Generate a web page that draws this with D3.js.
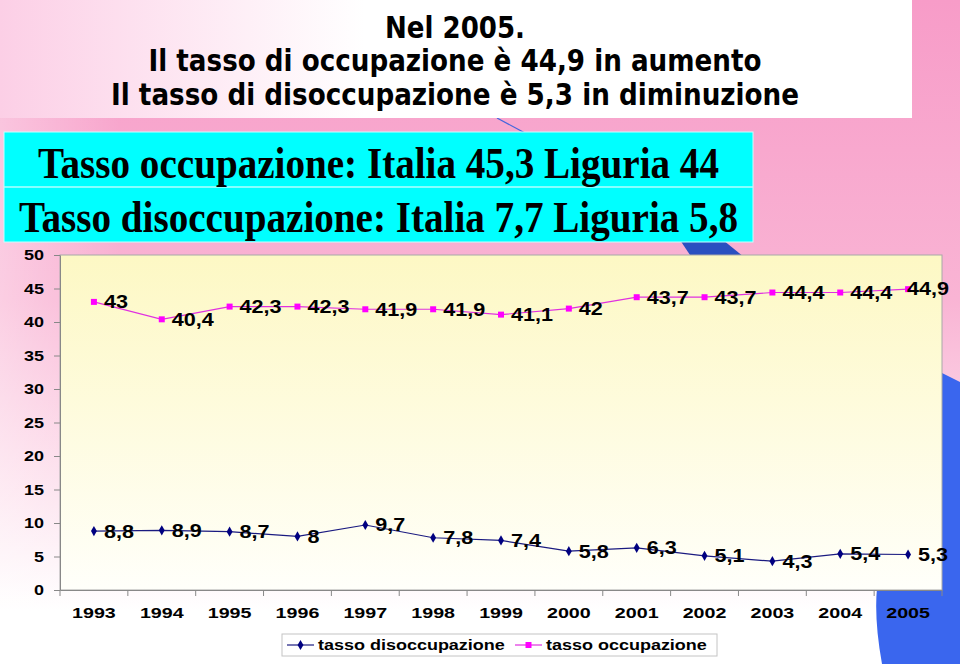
<!DOCTYPE html>
<html><head><meta charset="utf-8">
<script src="https://cdn.jsdelivr.net/npm/d3@7"></script>
<style>html,body{margin:0;padding:0;background:#fff;}svg{display:block;}</style>
</head><body>
<svg id="c" width="960" height="664"></svg>
<script>
const years = ["1993","1994","1995","1996","1997","1998","1999","2000","2001","2002","2003","2004","2005"];
const disoccupazione = [8.8, 8.9, 8.7, 8, 9.7, 7.8, 7.4, 5.8, 6.3, 5.1, 4.3, 5.4, 5.3];
const occupazione = [43, 40.4, 42.3, 42.3, 41.9, 41.9, 41.1, 42, 43.7, 43.7, 44.4, 44.4, 44.9];
const yTicks = [0, 5, 10, 15, 20, 25, 30, 35, 40, 45, 50];
const seriesNames = ["tasso disoccupazione", "tasso occupazione"];
const titleLines = ["Nel 2005.", "Il tasso di occupazione è 44,9 in aumento", "Il tasso di disoccupazione è 5,3 in diminuzione"];
const boxLines = ["Tasso occupazione: Italia 45,3 Liguria 44", "Tasso disoccupazione: Italia 7,7 Liguria 5,8"];

const svg = d3.select("#c");
const defs = svg.append("defs");

const bg = defs.append("linearGradient").attr("id","bg").attr("x1",0).attr("y1",0).attr("x2",0).attr("y2",1);
bg.append("stop").attr("offset","0%").attr("stop-color","#f79cc8");
bg.append("stop").attr("offset","45%").attr("stop-color","#f9b4d4");
bg.append("stop").attr("offset","75%").attr("stop-color","#fde2ee");
bg.append("stop").attr("offset","92%").attr("stop-color","#ffffff");
const bgl = defs.append("linearGradient").attr("id","bgl").attr("x1",0).attr("y1",0).attr("x2",1).attr("y2",0);
bgl.append("stop").attr("offset","0%").attr("stop-color","#ffffff").attr("stop-opacity",0.35);
bgl.append("stop").attr("offset","100%").attr("stop-color","#ffffff").attr("stop-opacity",0);
const tg = defs.append("linearGradient").attr("id","tg").attr("x1",0).attr("y1",0).attr("x2",1).attr("y2",0);
tg.append("stop").attr("offset","0%").attr("stop-color","#fccfe6");
tg.append("stop").attr("offset","40%").attr("stop-color","#ffffff");
tg.append("stop").attr("offset","100%").attr("stop-color","#ffffff");
const pg = defs.append("linearGradient").attr("id","pg").attr("x1",0).attr("y1",0).attr("x2",0).attr("y2",1);
pg.append("stop").attr("offset","0%").attr("stop-color","#fdf8c4");
pg.append("stop").attr("offset","100%").attr("stop-color","#fffffa");

// horizontal stretch of a text about its anchor x
function stretch(sel, s) {
  sel.each(function() {
    const t = d3.select(this);
    const ax = +t.attr("x") || 0;
    t.attr("transform", `translate(${ax},0) scale(${s},1) translate(${-ax},0)`);
  });
}

// background
svg.append("rect").attr("width",960).attr("height",664).attr("fill","url(#bg)");
svg.append("rect").attr("width",120).attr("height",664).attr("fill","url(#bgl)");

// blue decoration
svg.append("line").attr("x1",497).attr("y1",118).attr("x2",525).attr("y2",133).attr("stroke","#4466dd").attr("stroke-width",1.2);
svg.append("path").attr("d","M680,240 L723,240 L760,270 L700,270 Z").attr("fill","#2a4fc0");
svg.append("path").attr("d","M940,372 L960,382 L960,664 L882,664 Q874,620 877,588 L940,588 Z").attr("fill","#3a66ee");

// title box
svg.append("rect").attr("x",0).attr("y",0).attr("width",912).attr("height",118).attr("fill","url(#tg)");
const tl = svg.append("g").attr("font-family","'DejaVu Sans', Verdana, sans-serif")
  .attr("font-weight","bold").attr("font-size",30).attr("fill","#000");
const tW = [140, 613, 688], tY = [38, 71, 105];
titleLines.forEach((t,i)=>{
  tl.append("text").attr("x",455).attr("y",tY[i]).attr("text-anchor","middle")
    .attr("textLength",tW[i]).attr("lengthAdjust","spacingAndGlyphs").text(t);
});

// cyan box
svg.append("rect").attr("x",4).attr("y",132).attr("width",749).attr("height",110).attr("fill","#00ffff").attr("stroke","#c8ffff").attr("stroke-width",1);
svg.append("line").attr("x1",4).attr("x2",753).attr("y1",187).attr("y2",187).attr("stroke","#b0ffff").attr("stroke-width",1.5);
const bx = [38, 19], bW = [681, 719], bY = [178, 232];
boxLines.forEach((t,i)=>{
  svg.append("text").attr("x",bx[i]).attr("y",bY[i])
    .attr("font-family","'Liberation Serif', 'Times New Roman', serif").attr("font-size",45).attr("font-weight","bold")
    .attr("textLength",bW[i]).attr("lengthAdjust","spacingAndGlyphs").attr("fill","#000").text(t);
});

// chart
const L = 60, R = 942, T = 255, B = 590;
const x = d3.scaleBand().domain(years).range([L, R]);
const y = d3.scaleLinear().domain([0, 50]).range([B, T]);

svg.append("rect").attr("x",L).attr("y",T).attr("width",R-L).attr("height",B-T)
  .attr("fill","url(#pg)").attr("stroke","#a8a8a8").attr("stroke-width",1);

const axFont = "'Liberation Sans', Arial, sans-serif";
const yAx = svg.append("g").attr("transform",`translate(${L},0)`)
  .call(d3.axisLeft(y).tickValues(yTicks).tickSize(6).tickPadding(10).tickSizeOuter(0));
yAx.selectAll("text").attr("font-family",axFont).attr("font-weight","bold").attr("font-size",15).attr("fill","#000");
stretch(yAx.selectAll("text"), 1.2);
yAx.selectAll("line,path").attr("stroke","#888");

const xAx = svg.append("g").attr("transform",`translate(0,${B})`)
  .call(d3.axisBottom(x).tickSize(0).tickPadding(17).tickSizeOuter(0));
xAx.selectAll("text").attr("font-family",axFont).attr("font-weight","bold").attr("font-size",15.5).attr("fill","#000");
stretch(xAx.selectAll("text"), 1.27);
xAx.selectAll("path").attr("stroke","#888");
xAx.selectAll(".bnd").data(d3.range(years.length+1)).enter().append("line").attr("class","bnd")
  .attr("x1",i=>L + i*x.step()).attr("x2",i=>L + i*x.step()).attr("y1",0).attr("y2",6).attr("stroke","#888");

const cx = d => x(d) + x.bandwidth()/2;
const line = d3.line().x((d,i)=>cx(years[i])).y(d=>y(d));

const series = [
  {name: seriesNames[0], vals: disoccupazione, color:"#000080", lineColor:"#1a1a80", shape: d3.symbolDiamond, size: 30},
  {name: seriesNames[1], vals: occupazione, color:"#ff00ff", lineColor:"#e030e0", shape: d3.symbolSquare, size: 36}
];

series.forEach((s, si) => {
  svg.append("path").datum(s.vals).attr("d", line).attr("fill","none").attr("stroke",s.lineColor).attr("stroke-width",1.2);
  svg.selectAll(null).data(s.vals).enter().append("path")
    .attr("d", d3.symbol().type(s.shape).size(s.size))
    .attr("transform",(d,i)=>`translate(${cx(years[i])},${y(d)})`).attr("fill",s.color);
  const lbl = svg.selectAll(null).data(s.vals).enter().append("text")
    .attr("x",(d,i)=>cx(years[i]) + ((si===1 && i===s.vals.length-1) ? -1 : 10))
    .attr("y",(d,i)=>y(d) + ((si===1 && i===s.vals.length-1) ? -1 : 0))
    .attr("dy","0.36em")
    .attr("font-family",axFont).attr("font-weight","bold").attr("font-size",18).attr("fill","#000")
    .text(d => String(d).replace(".", ","));
  stretch(lbl, 1.2);
});

// legend
const lg = svg.append("g");
lg.append("rect").attr("x",282).attr("y",634).attr("width",435).attr("height",22).attr("fill","#fff").attr("stroke","#c4c4c4");
const lx = [287, 515];
series.forEach((s, si) => {
  lg.append("line").attr("x1",lx[si]).attr("x2",lx[si]+27).attr("y1",645).attr("y2",645).attr("stroke",s.lineColor).attr("stroke-width",1.2);
  lg.append("path").attr("d", d3.symbol().type(s.shape).size(s.size)).attr("transform",`translate(${lx[si]+13.5},645)`).attr("fill",s.color);
  const t = lg.append("text").attr("x",lx[si]+31).attr("y",645).attr("dy","0.36em")
    .attr("font-family",axFont).attr("font-weight","bold").attr("font-size",15).attr("fill","#000").text(s.name);
  stretch(t, 1.2);
});
</script>
</body></html>
